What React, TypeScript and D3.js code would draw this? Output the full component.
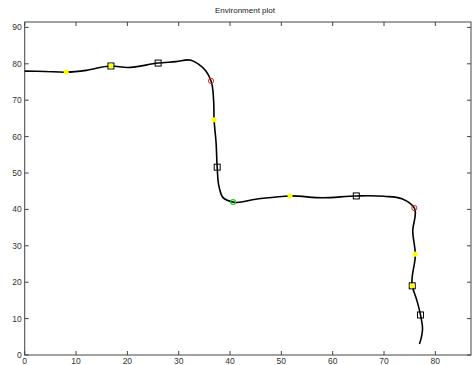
import React from "react";
import * as d3 from "d3";

const pathX = [0, 4, 8.1, 12, 16.8, 20, 26, 29.5, 32.4, 33.8, 35.3, 36.3, 36.8, 36.9, 37.3, 37.5, 37.9, 38.6, 40.6, 45, 51.7, 58, 64.6, 70, 73.5, 75.9, 75.6, 76.1, 75.5, 76.4, 77.1, 77.5, 77.3, 76.9];
const pathY = [78, 77.9, 77.7, 78.2, 79.4, 79, 80.2, 80.6, 81, 80, 78, 75.3, 70, 64.6, 58, 51.6, 46, 43.3, 42, 42.8, 43.7, 43.2, 43.7, 43.6, 42.9, 40.4, 34, 27.7, 19, 15, 11, 7, 5, 3];

const yellowX = [8.1, 16.8, 36.9, 51.7, 76.1, 75.5];
const yellowY = [77.7, 79.4, 64.6, 43.7, 27.7, 19.0];
const squareX = [16.8, 26, 37.5, 64.6, 75.5, 77.1];
const squareY = [79.4, 80.2, 51.6, 43.7, 19.0, 11.0];
const redX = [36.3, 75.9];
const redY = [75.3, 40.4];
const greenX = [40.6];
const greenY = [42.0];

const xTicks = [0, 10, 20, 30, 40, 50, 60, 70, 80];
const yTicks = [0, 10, 20, 30, 40, 50, 60, 70, 80, 90];

const W = 473, H = 365;
const left = 24.7, right = 471, top = 22, bottom = 355;

export default function App() {
  const x = d3.scaleLinear().domain([0, 87]).range([left, left + 87 * 5.133]);
  const y = d3.scaleLinear().domain([0, 91.5]).range([bottom, bottom - 91.5 * 3.64]);
  const line = d3.line<number>().x((i) => x(pathX[i])).y((i) => y(pathY[i])).curve(d3.curveCatmullRom.alpha(1));
  const idx = pathX.map((_, i) => i);
  const axisColor = "#444";
  const font = "'Liberation Sans', Arial, sans-serif";
  return (
    <svg width={W} height={H} style={{ position: "absolute", left: 0, top: 0, background: "#fff" }}>
      <text x={245} y={13} fontSize={8} fontFamily={font} textAnchor="middle" fill="#222">Environment plot</text>
      <rect x={left} y={top} width={right - left} height={bottom - top} fill="#fff" stroke={axisColor} strokeWidth={1} />
      {xTicks.map((t) => (
        <g key={"x" + t}>
          <line x1={x(t)} x2={x(t)} y1={bottom} y2={bottom - 4} stroke={axisColor} />
          <line x1={x(t)} x2={x(t)} y1={top} y2={top + 4} stroke={axisColor} />
          <text x={x(t)} y={bottom + 9} fontSize={8.5} fontFamily={font} textAnchor="middle" fill="#333">{t}</text>
        </g>
      ))}
      {yTicks.map((t) => (
        <g key={"y" + t}>
          <line x1={left} x2={left + 4} y1={y(t)} y2={y(t)} stroke={axisColor} />
          <line x1={right} x2={right - 4} y1={y(t)} y2={y(t)} stroke={axisColor} />
          <text x={left - 3} y={y(t) + 3} fontSize={8.5} fontFamily={font} textAnchor="end" fill="#333">{t}</text>
        </g>
      ))}
      <path d={line(idx) ?? ""} fill="none" stroke="#000" strokeWidth={1.6} />
      {squareX.map((v, i) => (
        <rect key={"s" + i} x={x(v) - 3} y={y(squareY[i]) - 3} width={6} height={6} fill="none" stroke="#000" strokeWidth={1} />
      ))}
      {yellowX.map((v, i) => (
        <circle key={"yl" + i} cx={x(v)} cy={y(yellowY[i])} r={2.3} fill="#ffff00" stroke="#ffff00" strokeWidth={0.5} />
      ))}
      {redX.map((v, i) => (
        <circle key={"r" + i} cx={x(v)} cy={y(redY[i])} r={2.6} fill="none" stroke="#e02020" strokeWidth={1} />
      ))}
      {greenX.map((v, i) => (
        <circle key={"g" + i} cx={x(v)} cy={y(greenY[i])} r={2.4} fill="none" stroke="#22cc22" strokeWidth={1.2} />
      ))}
    </svg>
  );
}
